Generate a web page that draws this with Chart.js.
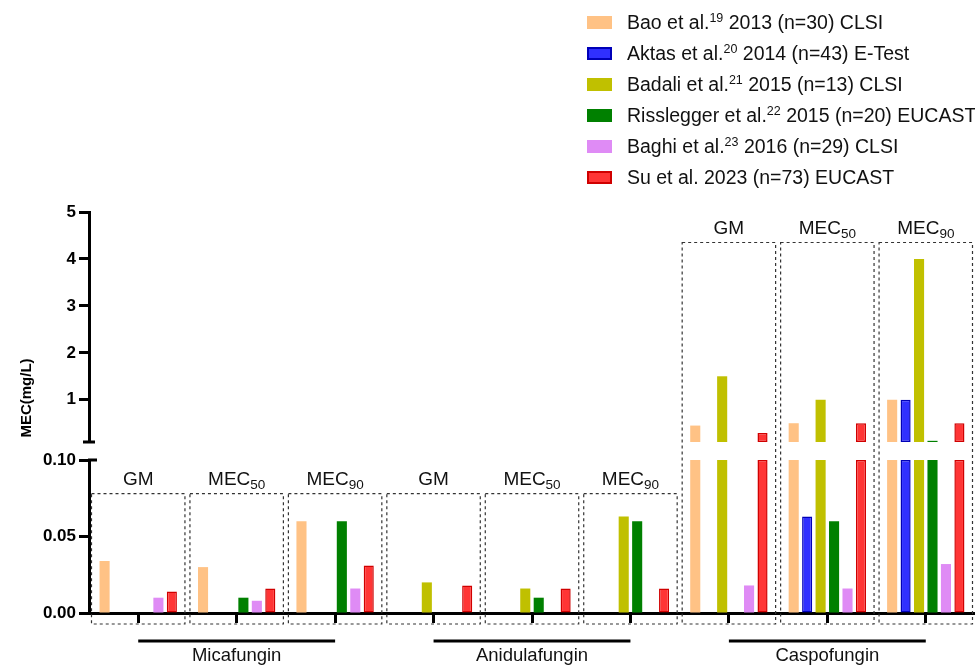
<!DOCTYPE html>
<html>
<head>
<meta charset="utf-8">
<title>Echinocandin MEC comparison</title>
<script src="https://cdn.jsdelivr.net/npm/chart.js"></script>
<style>
  body { margin: 0; background: #fff; font-family: "Liberation Sans", Arial, sans-serif; }
  #wrap { position: relative; width: 975px; height: 669px; }
  #legend { position: absolute; left: 587px; top: 7px; font-size: 19.5px; color: #111; }
  .item { height: 31px; display: flex; align-items: center; white-space: nowrap; }
  .sw { width: 25px; height: 13px; margin-right: 15px; box-sizing: border-box; }
  sup { font-size: 12.5px; line-height: 0; vertical-align: 7px; }
</style>
</head>
<body>
<div id="wrap">
  <canvas id="mecChart"></canvas>
  <div id="legend"></div>
</div>
<script>
    const drugs = ['Micafungin', 'Anidulafungin', 'Caspofungin'];
    const measures = ['GM', 'MEC50', 'MEC90'];
    const labels = drugs.flatMap(d => measures.map(m => d + ' ' + m));

    const studyNames = ['Bao et al.', 'Aktas et al.', 'Badali et al.', 'Risslegger et al.', 'Baghi et al.', 'Su et al.'];
    const studyRefs = ['19', '20', '21', '22', '23', ''];
    const studyInfo = ['2013 (n=30) CLSI', '2014 (n=43) E-Test', '2015 (n=13) CLSI',
                       '2015 (n=20) EUCAST', '2016 (n=29) CLSI', '2023 (n=73) EUCAST'];

    // values per category: Mica GM, MEC50, MEC90, Anid GM, MEC50, MEC90, Caspo GM, MEC50, MEC90
    const bao        = [0.034, 0.030, 0.060, null,  null,  null,  0.45,  0.5,   1];
    const aktas      = [null,  null,  null,  null,  null,  null,  null,  0.063, 1];
    const badali     = [null,  null,  null,  0.020, 0.016, 0.063, 1.5,   1,     4];
    const risslegger = [null,  0.010, 0.060, null,  0.010, 0.060, null,  0.060, 0.125];
    const baghi      = [0.010, 0.008, 0.016, null,  null,  null,  0.018, 0.016, 0.032];
    const su         = [0.014, 0.016, 0.031, 0.018, 0.016, 0.016, 0.29,  0.5,   0.5];
    const series = [bao, aktas, badali, risslegger, baghi, su];

    const fills   = ['#FFC285', '#3030FF', '#C0C000', '#008000', '#DF8BF5', '#FF3535'];
    const borders = ['#FFC285', '#0000B8', '#C0C000', '#008000', '#DF8BF5', '#D00000'];
    const borderW = [0, 1.5, 0, 0, 0, 1.5];

    const BREAK = 0.1;   // top of the lower segment / bottom of the upper one

    // html legend (keeps the superscripts)
    const legend = document.getElementById('legend');
    studyNames.forEach((n, i) => {
        const row = document.createElement('div');
        row.className = 'item';
        const sw = document.createElement('div');
        sw.className = 'sw';
        sw.style.background = fills[i];
        if (borderW[i]) sw.style.border = '2px solid ' + borders[i];
        row.appendChild(sw);
        const txt = document.createElement('span');
        txt.innerHTML = n + (studyRefs[i] ? '<sup>' + studyRefs[i] + '</sup>' : '') + ' ' + studyInfo[i];
        row.appendChild(txt);
        legend.appendChild(row);
    });

    const datasets = [];
    series.forEach((vals, i) => {
        const style = {
            stack: studyNames[i],
            backgroundColor: fills[i],
            borderColor: borders[i],
            borderWidth: borderW[i],
            borderSkipped: false,
            categoryPercentage: 0.82,
            barPercentage: 0.75
        };
        datasets.push(Object.assign({
            label: studyNames[i],
            yAxisID: 'yLow',
            data: vals.map(v => v == null ? null : Math.min(v, BREAK))
        }, style));
        datasets.push(Object.assign({
            label: studyNames[i] + ' (upper)',
            yAxisID: 'yHigh',
            base: BREAK,
            data: vals.map(v => v != null && v > BREAK ? v : null)
        }, style));
    });

    const FONT = '"Liberation Sans", Arial, sans-serif';

    function drawLabel(ctx, m, cx, y) {
        const main = m.startsWith('MEC') ? 'MEC' : m;
        const sub = m.startsWith('MEC') ? m.slice(3) : '';
        ctx.font = '19px ' + FONT;
        const w1 = ctx.measureText(main).width;
        ctx.font = '13.5px ' + FONT;
        const w2 = sub ? ctx.measureText(sub).width : 0;
        const x0 = cx - (w1 + w2) / 2;
        ctx.textAlign = 'left';
        ctx.textBaseline = 'alphabetic';
        ctx.font = '19px ' + FONT;
        ctx.fillText(main, x0, y);
        if (sub) {
            ctx.font = '13.5px ' + FONT;
            ctx.fillText(sub, x0 + w1, y + 4);
        }
    }

    const decor = {
        id: 'decor',
        afterDraw(chart) {
            const {ctx, chartArea, scales: {x, yLow, yHigh}} = chart;
            const step = x.getPixelForValue(1) - x.getPixelForValue(0);
            const axisY = chartArea.bottom;
            ctx.save();
            ctx.fillStyle = '#111';
            ctx.strokeStyle = '#000';
            ctx.lineWidth = 3;
            // axis break caps
            ctx.beginPath();
            ctx.moveTo(chartArea.left - 6, yHigh.bottom);
            ctx.lineTo(chartArea.left + 6, yHigh.bottom);
            ctx.moveTo(chartArea.left - 1, yLow.top);
            ctx.lineTo(chartArea.left + 8, yLow.top);
            ctx.stroke();

            // dashed group boxes + their labels
            labels.forEach((_, i) => {
                const cx = x.getPixelForValue(i);
                const half = step / 2 - 2.5;
                const top = i >= 6 ? yHigh.getPixelForValue(4.35) : yLow.getPixelForValue(0.078);
                ctx.save();
                ctx.setLineDash([3, 3]);
                ctx.lineWidth = 1.2;
                ctx.strokeStyle = '#333';
                ctx.strokeRect(cx - half, top, half * 2, axisY + 11 - top);
                ctx.restore();
                drawLabel(ctx, measures[i % 3], cx, top - 9);
            });

            // drug underlines
            ctx.lineWidth = 3;
            ctx.strokeStyle = '#000';
            drugs.forEach((d, k) => {
                ctx.beginPath();
                ctx.moveTo(x.getPixelForValue(k * 3), axisY + 28);
                ctx.lineTo(x.getPixelForValue(k * 3 + 2), axisY + 28);
                ctx.stroke();
            });

            // y title
            ctx.translate(27, 398);
            ctx.rotate(-Math.PI / 2);
            ctx.font = 'bold 15px ' + FONT;
            ctx.textAlign = 'center';
            ctx.textBaseline = 'middle';
            ctx.fillStyle = '#000';
            ctx.fillText('MEC(mg/L)', 0, 0);
            ctx.restore();
        }
    };

    const yTickFont = {family: FONT, size: 17, weight: 'bold'};
    const yGrid = {display: true, drawOnChartArea: false, drawTicks: true, tickLength: 10, tickWidth: 3, color: '#000'};
    const fixWidth = s => { s.width = 89; };

    new Chart(document.getElementById('mecChart'), {
        type: 'bar',
        data: {labels: labels, datasets: datasets},
        plugins: [decor],
        options: {
            responsive: true,
            maintainAspectRatio: false,
            animation: false,
            layout: {padding: {top: 212, left: 0, right: 0, bottom: 0}},
            plugins: {legend: {display: false}, tooltip: {enabled: false}},
            scales: {
                x: {
                    grid: {display: true, drawOnChartArea: false, offset: false, tickLength: 10, tickWidth: 3, color: '#000'},
                    border: {display: true, width: 3, color: '#000'},
                    ticks: {
                        autoSkip: false, maxRotation: 0, padding: 22, color: '#111',
                        font: {family: FONT, size: 18.5},
                        callback: (v, i) => i % 3 === 1 ? drugs[Math.floor(i / 3)] : ''
                    },
                    afterFit: s => { s.height = 56; }
                },
                yLow: {
                    type: 'linear', position: 'left', stack: 'v', stackWeight: 153,
                    min: 0, max: BREAK,
                    grid: yGrid,
                    border: {display: true, width: 3, color: '#000'},
                    ticks: {stepSize: 0.05, color: '#000', font: yTickFont, padding: 3,
                            callback: v => v.toFixed(2)},
                    afterFit: fixWidth
                },
                yGap: {
                    type: 'linear', position: 'left', stack: 'v', stackWeight: 18,
                    min: 0, max: 1,
                    grid: {display: false},
                    border: {display: false},
                    ticks: {display: false},
                    afterFit: fixWidth
                },
                yHigh: {
                    type: 'linear', position: 'left', stack: 'v', stackWeight: 230,
                    min: BREAK, max: 5,
                    grid: yGrid,
                    border: {display: true, width: 3, color: '#000'},
                    ticks: {color: '#000', font: yTickFont, padding: 3},
                    afterBuildTicks: s => { s.ticks = [1, 2, 3, 4, 5].map(v => ({value: v})); },
                    afterFit: fixWidth
                }
            }
        }
    });
</script>
</body>
</html>
